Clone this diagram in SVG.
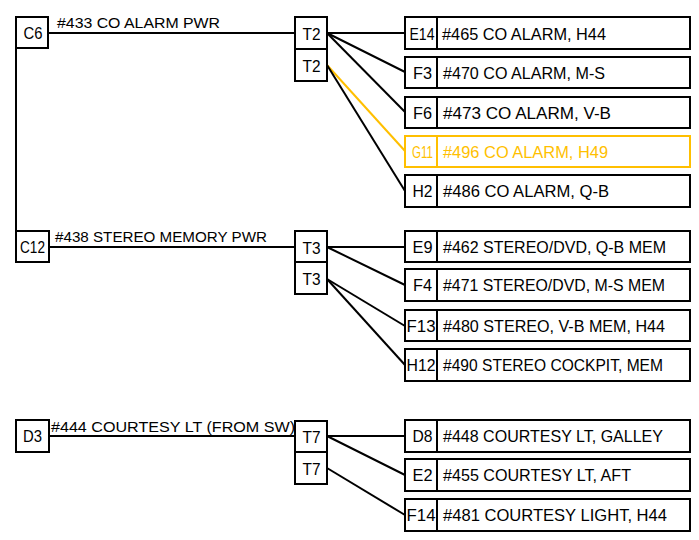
<svg xmlns="http://www.w3.org/2000/svg" width="699" height="540" viewBox="0 0 699 540">
<style>
rect{fill:#fff;stroke:#000;stroke-width:2}
line{stroke:#000;stroke-width:2}
text{font-family:"Liberation Sans","DejaVu Sans",sans-serif;font-size:16.5px;fill:#000}
.w{font-size:14px}
.c{text-anchor:middle}
.y rect,.y line{stroke:#FFBF00}
.y text{fill:#FFBF00}
line.y{stroke:#FFBF00}
</style>
<rect x="0" y="0" width="699" height="540" style="fill:#fff;stroke:none"/>
<g id="connectors">
<line x1="16" y1="48" x2="16" y2="231"/>
<line x1="48" y1="33" x2="295" y2="33"/>
<line x1="49" y1="247" x2="295" y2="247"/>
<line x1="49" y1="436" x2="295" y2="436"/>
<line x1="327" y1="33" x2="405" y2="33"/>
<line x1="327" y1="33" x2="405" y2="72"/>
<line x1="327" y1="33" x2="405" y2="112"/>
<line class="y" x1="327" y1="65" x2="405" y2="151"/>
<line x1="327" y1="65" x2="405" y2="191"/>
<line x1="327" y1="247" x2="405" y2="247"/>
<line x1="327" y1="247" x2="405" y2="285"/>
<line x1="327" y1="279" x2="405" y2="326"/>
<line x1="327" y1="279" x2="405" y2="365"/>
<line x1="327" y1="436" x2="405" y2="436"/>
<line x1="327" y1="436" x2="405" y2="475"/>
<line x1="327" y1="468" x2="405" y2="515"/>
</g>
<g id="wire-labels">
<text class="w" x="57" y="28" textLength="163" lengthAdjust="spacingAndGlyphs">#433 CO ALARM PWR</text>
<text class="w" x="55" y="242" textLength="212" lengthAdjust="spacingAndGlyphs">#438 STEREO MEMORY PWR</text>
<text class="w" x="51" y="432" textLength="244" lengthAdjust="spacingAndGlyphs">#444 COURTESY LT (FROM SW)</text>
</g>
<g id="C6"><rect x="16" y="17" width="32" height="31"/><text class="c" x="33" y="39" textLength="19" lengthAdjust="spacingAndGlyphs">C6</text></g>
<g id="C12"><rect x="16" y="231" width="33" height="31"/><text class="c" x="32.5" y="253" textLength="25" lengthAdjust="spacingAndGlyphs">C12</text></g>
<g id="D3"><rect x="16" y="420" width="33" height="32"/><text class="c" x="32.5" y="442" textLength="19" lengthAdjust="spacingAndGlyphs">D3</text></g>
<g id="T2a"><rect x="295" y="17" width="32" height="32"/><text class="c" x="311.5" y="40" textLength="18" lengthAdjust="spacingAndGlyphs">T2</text></g>
<g id="T2b"><rect x="295" y="49" width="32" height="32"/><text class="c" x="311.5" y="72" textLength="18" lengthAdjust="spacingAndGlyphs">T2</text></g>
<g id="T3a"><rect x="295" y="231" width="32" height="31"/><text class="c" x="311.5" y="254" textLength="18" lengthAdjust="spacingAndGlyphs">T3</text></g>
<g id="T3b"><rect x="295" y="262" width="32" height="32"/><text class="c" x="311.5" y="285" textLength="18" lengthAdjust="spacingAndGlyphs">T3</text></g>
<g id="T7a"><rect x="295" y="421" width="32" height="31"/><text class="c" x="311.5" y="443" textLength="18" lengthAdjust="spacingAndGlyphs">T7</text></g>
<g id="T7b"><rect x="295" y="452" width="32" height="32"/><text class="c" x="311.5" y="475" textLength="18" lengthAdjust="spacingAndGlyphs">T7</text></g>
<g id="E14"><rect x="405" y="17" width="285" height="32"/><line x1="437" y1="17" x2="437" y2="49"/><text class="c" x="422" y="39.5" textLength="25" lengthAdjust="spacingAndGlyphs">E14</text><text x="442" y="39.5" textLength="164" lengthAdjust="spacingAndGlyphs">#465 CO ALARM, H44</text></g>
<g id="F3"><rect x="405" y="57" width="285" height="31"/><line x1="437" y1="57" x2="437" y2="88"/><text class="c" x="422.5" y="79" textLength="19" lengthAdjust="spacingAndGlyphs">F3</text><text x="443" y="79" textLength="162" lengthAdjust="spacingAndGlyphs">#470 CO ALARM, M-S</text></g>
<g id="F6"><rect x="405" y="97" width="285" height="31"/><line x1="437" y1="97" x2="437" y2="128"/><text class="c" x="422.5" y="119" textLength="19" lengthAdjust="spacingAndGlyphs">F6</text><text x="443" y="119" textLength="168" lengthAdjust="spacingAndGlyphs">#473 CO ALARM, V-B</text></g>
<g id="G11" class="y"><rect x="405" y="136" width="285" height="31"/><line x1="437" y1="136" x2="437" y2="167"/><text class="c" x="422.5" y="158" textLength="21" lengthAdjust="spacingAndGlyphs">G11</text><text x="443" y="158" textLength="165" lengthAdjust="spacingAndGlyphs">#496 CO ALARM, H49</text></g>
<g id="H2"><rect x="405" y="175" width="285" height="32"/><line x1="437" y1="175" x2="437" y2="207"/><text class="c" x="422.5" y="197" textLength="20" lengthAdjust="spacingAndGlyphs">H2</text><text x="443" y="197" textLength="166" lengthAdjust="spacingAndGlyphs">#486 CO ALARM, Q-B</text></g>
<g id="E9"><rect x="405" y="231" width="285" height="31"/><line x1="437" y1="231" x2="437" y2="262"/><text class="c" x="422.5" y="253" textLength="20" lengthAdjust="spacingAndGlyphs">E9</text><text x="443" y="253" textLength="223" lengthAdjust="spacingAndGlyphs">#462 STEREO/DVD, Q-B MEM</text></g>
<g id="F4"><rect x="405" y="269" width="285" height="32"/><line x1="437" y1="269" x2="437" y2="301"/><text class="c" x="422.5" y="291" textLength="19" lengthAdjust="spacingAndGlyphs">F4</text><text x="443" y="291" textLength="222" lengthAdjust="spacingAndGlyphs">#471 STEREO/DVD, M-S MEM</text></g>
<g id="F13"><rect x="405" y="310" width="285" height="31"/><line x1="437" y1="310" x2="437" y2="341"/><text class="c" x="421" y="332" textLength="29" lengthAdjust="spacingAndGlyphs">F13</text><text x="443" y="332" textLength="222" lengthAdjust="spacingAndGlyphs">#480 STEREO, V-B MEM, H44</text></g>
<g id="H12"><rect x="405" y="349" width="285" height="32"/><line x1="437" y1="349" x2="437" y2="381"/><text class="c" x="421" y="371" textLength="29" lengthAdjust="spacingAndGlyphs">H12</text><text x="443" y="371" textLength="220" lengthAdjust="spacingAndGlyphs">#490 STEREO COCKPIT, MEM</text></g>
<g id="D8"><rect x="405" y="420" width="285" height="32"/><line x1="437" y1="420" x2="437" y2="452"/><text class="c" x="422.5" y="442" textLength="20" lengthAdjust="spacingAndGlyphs">D8</text><text x="443" y="442" textLength="220" lengthAdjust="spacingAndGlyphs">#448 COURTESY LT, GALLEY</text></g>
<g id="E2"><rect x="405" y="459" width="285" height="32"/><line x1="437" y1="459" x2="437" y2="491"/><text class="c" x="422.5" y="481" textLength="20" lengthAdjust="spacingAndGlyphs">E2</text><text x="443" y="481" textLength="188" lengthAdjust="spacingAndGlyphs">#455 COURTESY LT, AFT</text></g>
<g id="F14"><rect x="405" y="499" width="285" height="32"/><line x1="437" y1="499" x2="437" y2="531"/><text class="c" x="421" y="521" textLength="29" lengthAdjust="spacingAndGlyphs">F14</text><text x="443" y="521" textLength="224" lengthAdjust="spacingAndGlyphs">#481 COURTESY LIGHT, H44</text></g>
</svg>
